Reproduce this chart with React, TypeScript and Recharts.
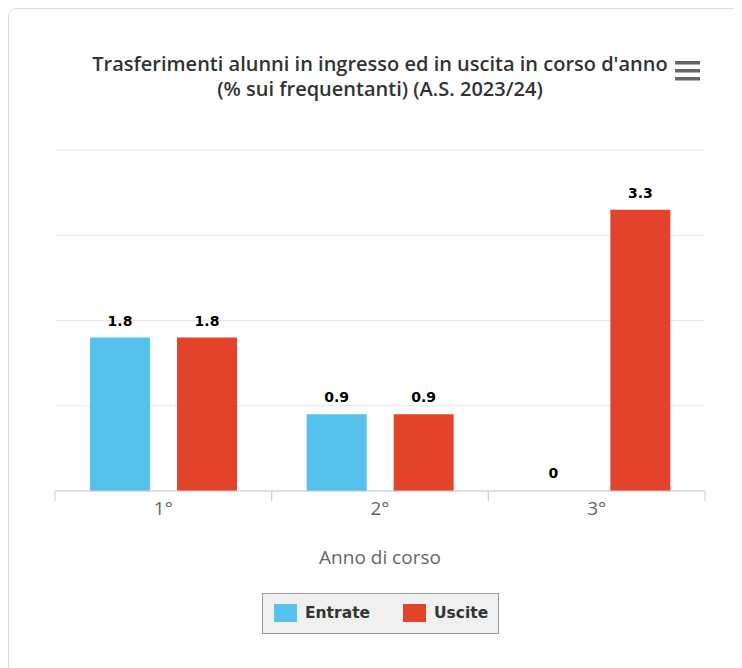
import React from 'react';
import { BarChart, Bar, XAxis, YAxis, CartesianGrid, LabelList, Cell } from 'recharts';

const anni = ['1°', '2°', '3°'];
const entrate = [1.8, 0.9, 0];
const uscite = [1.8, 0.9, 3.3];
const yTicks = [0, 1, 2, 3, 4];
const seriesNames = ['Entrate', 'Uscite'];

const BLUE = '#56c1ec';
const RED = '#e3432a';

const CHART_W = 734;
const MARGIN = { top: 142, right: 37, bottom: 147, left: 47 };
const HALF_BAND = (CHART_W - MARGIN.left - MARGIN.right) / anni.length / 2;

const data = anni.map((anno, i) => ({ anno, entrate: entrate[i], uscite: uscite[i] }));

// label at the centre, tick marks on the category edges (highcharts style)
const AnnoTick = (props: any) => {
  const { x, y, payload } = props;
  const half = payload && payload.offset > 0 ? payload.offset : HALF_BAND;
  return (
    <g>
      <line x1={x - half} x2={x - half} y1={y} y2={y + 10} stroke="#cccccc" />
      <line x1={x + half} x2={x + half} y1={y} y2={y + 10} stroke="#cccccc" />
      <text x={x} y={y + 17} textAnchor="middle" dominantBaseline="central"
        fontFamily="'Open Sans', sans-serif" fontSize={19} fill="#666666">
        {payload.value}
      </text>
    </g>
  );
};

const labelStyle = { fontFamily: "'DejaVu Sans', sans-serif", fontWeight: 700, fontSize: 14, fill: '#000' };

export default function App() {
  return (
    <div style={{ position: 'relative', width: 734, height: 660, overflow: 'hidden', background: '#fff' }}>
      <div style={{ position: 'absolute', left: 0, top: 0, width: 800, height: 720, border: '1px solid #dcdcdc', borderRadius: 8 }} />
      <div style={{
        position: 'absolute', left: 32, top: 43, width: 680, textAlign: 'center',
        fontFamily: "'Open Sans', sans-serif", fontWeight: 600, fontSize: 20, lineHeight: '25px',
        color: '#333333',
      }}>
        Trasferimenti alunni in ingresso ed in uscita in corso d'anno<br />
        (% sui frequentanti) (A.S. 2023/24)
      </div>
      <svg style={{ position: 'absolute', left: 667, top: 53 }} width={26} height={20}>
        {[0, 8, 16].map(t => <rect key={t} x={0} y={t} width={25} height={3.5} fill="#666666" />)}
      </svg>
      <div style={{ position: 'absolute', left: 0, top: 0 }}>
        <BarChart width={CHART_W} height={660} data={data} margin={MARGIN}
          barCategoryGap={35} barGap={27}>
          <CartesianGrid vertical={false} stroke="#e6e6e6" />
          <XAxis dataKey="anno" interval={0} height={30} tickSize={0} tickMargin={0}
            tickLine={false} axisLine={{ stroke: '#cccccc' }} tick={<AnnoTick />} />
          <YAxis hide domain={[0, 4]} ticks={yTicks} />
          <Bar dataKey="entrate" name={seriesNames[0]} fill={BLUE} minPointSize={1} isAnimationActive={false}>
            {entrate.map((v, i) => <Cell key={i} fill={v === 0 ? 'transparent' : BLUE} />)}
            <LabelList dataKey="entrate" position="top" offset={12} style={labelStyle} />
          </Bar>
          <Bar dataKey="uscite" name={seriesNames[1]} fill={RED} minPointSize={1} isAnimationActive={false}>
            {uscite.map((v, i) => <Cell key={i} fill={v === 0 ? 'transparent' : RED} />)}
            <LabelList dataKey="uscite" position="top" offset={12} style={labelStyle} />
          </Bar>
        </BarChart>
      </div>
      <div style={{
        position: 'absolute', left: 222, top: 537, width: 300, textAlign: 'center',
        fontFamily: "'Open Sans', sans-serif", fontSize: 19, lineHeight: '24px', color: '#666666',
      }}>
        Anno di corso
      </div>
      <div style={{
        position: 'absolute', left: 254, top: 585, width: 235, height: 39,
        border: '1px solid #999999', background: '#f0f0f0', boxSizing: 'content-box',
      }}>
        {seriesNames.map((n, i) => (
          <div key={n} style={{ position: 'absolute', left: i === 0 ? 11 : 140, top: 10, display: 'flex', alignItems: 'center' }}>
            <div style={{ width: 23, height: 18, background: i === 0 ? BLUE : RED }} />
            <span style={{
              marginLeft: 8, fontFamily: "'DejaVu Sans', sans-serif", fontWeight: 700,
              fontSize: 15.5, lineHeight: '18px', color: '#333333',
            }}>{n}</span>
          </div>
        ))}
      </div>
    </div>
  );
}
